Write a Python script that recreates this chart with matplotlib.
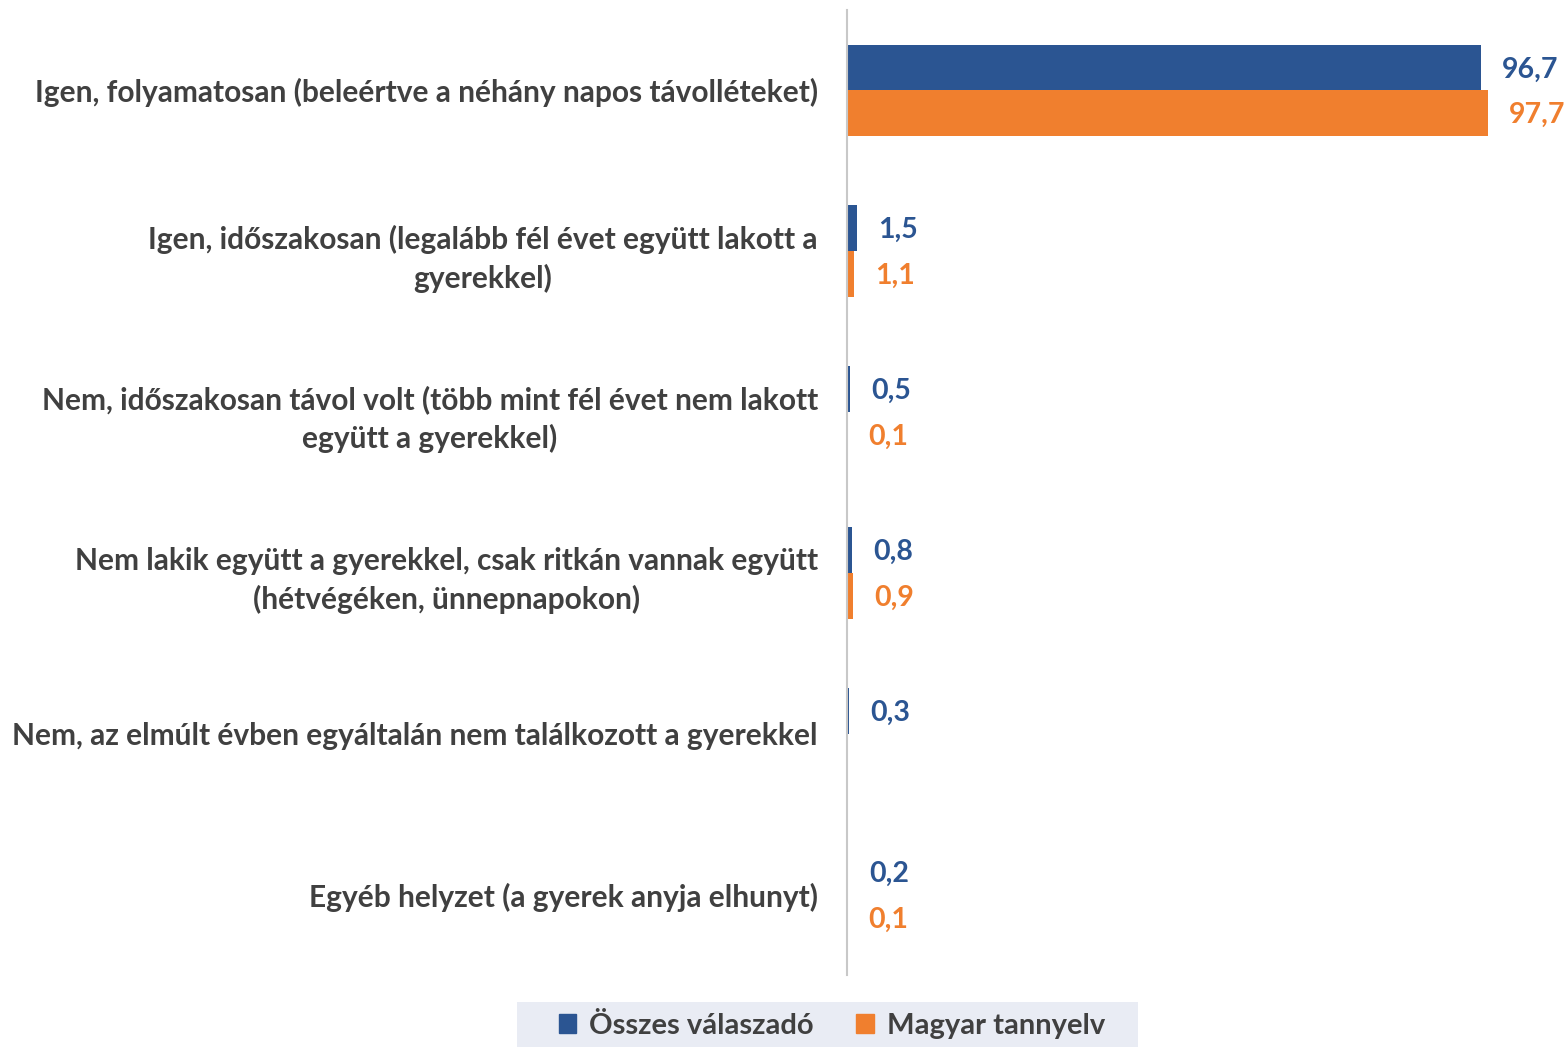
"""Apa együttlakás a gyerekkel - vízszintes oszlopdiagram"""

import matplotlib
matplotlib.use("Agg")
import matplotlib.pyplot as plt
import numpy as np
from matplotlib.patches import Patch, Rectangle

plt.rcParams["font.family"] = ["Lato", "DejaVu Sans"]
plt.rcParams["font.weight"] = "bold"

categories = [
    "Igen, folyamatosan (beleértve a néhány napos távolléteket)",
    "Igen, időszakosan (legalább fél évet együtt lakott a\ngyerekkel)",
    "Nem, időszakosan távol volt (több mint fél évet nem lakott\negyütt a gyerekkel)",
    "Nem lakik együtt a gyerekkel, csak ritkán vannak együtt\n(hétvégéken, ünnepnapokon)",
    "Nem, az elmúlt évben egyáltalán nem találkozott a gyerekkel",
    "Egyéb helyzet (a gyerek anyja elhunyt)",
]
osszes = [96.7, 1.5, 0.5, 0.8, 0.3, 0.2]
magyar = [97.7, 1.1, 0.1, 0.9, np.nan, 0.1]
series_names = ["Összes válaszadó", "Magyar tannyelv"]

BLUE = "#2B5592"
ORANGE = "#F07F2E"
TEXT = "#404040"

fig = plt.figure(figsize=(15.67, 10.47), dpi=100)
ax = fig.add_axes([847 / 1567, 1 - 975 / 1047, 1 - 847 / 1567, 965 / 1047])

y = np.arange(len(categories))
h = 0.285
ax.barh(y - h / 2, osszes, height=h, color=BLUE)
ax.barh(y + h / 2, np.nan_to_num(magyar), height=h, color=ORANGE)

for yi, v in zip(y, osszes):
    ax.annotate(f"{v:.1f}".replace(".", ","), (v, yi - h / 2), xytext=(21, -2),
                textcoords="offset pixels", va="center", ha="left",
                color=BLUE, fontsize=20.5, fontweight="bold")
for yi, v in zip(y, magyar):
    if np.isnan(v):
        continue
    ax.annotate(f"{v:.1f}".replace(".", ","), (v, yi + h / 2), xytext=(21, -2),
                textcoords="offset pixels", va="center", ha="left",
                color=ORANGE, fontsize=20.5, fontweight="bold")

ax.set_xlim(0, 109.8)
ax.set_ylim(len(categories) - 0.5, -0.5)
ax.set_yticks(y)
ax.set_yticklabels(categories, fontsize=21.5, fontweight="bold", color=TEXT,
                   multialignment="center", linespacing=1.4)
ax.tick_params(axis="y", length=0, pad=21)
ax.set_xticks([])
for s in ["top", "right", "bottom"]:
    ax.spines[s].set_visible(False)
ax.spines["left"].set_color("#C8C8C8")
ax.spines["left"].set_linewidth(1.5)

# legend background strip
fig.patches.append(Rectangle((517 / 1567, 0), 621 / 1567, 45 / 1047,
                             transform=fig.transFigure, facecolor="#E9ECF4",
                             edgecolor="none", zorder=0))
handles = [Patch(color=BLUE), Patch(color=ORANGE)]
leg = fig.legend(handles, series_names, loc="center",
                 bbox_to_anchor=(832 / 1567, 1 - 1026 / 1047), ncol=2,
                 frameon=False, handlelength=0.6, handleheight=0.6,
                 handletextpad=0.45, columnspacing=1.45,
                 prop={"size": 21, "weight": "bold"})
for t in leg.get_texts():
    t.set_color(TEXT)

fig.savefig("out.png", dpi=100)
